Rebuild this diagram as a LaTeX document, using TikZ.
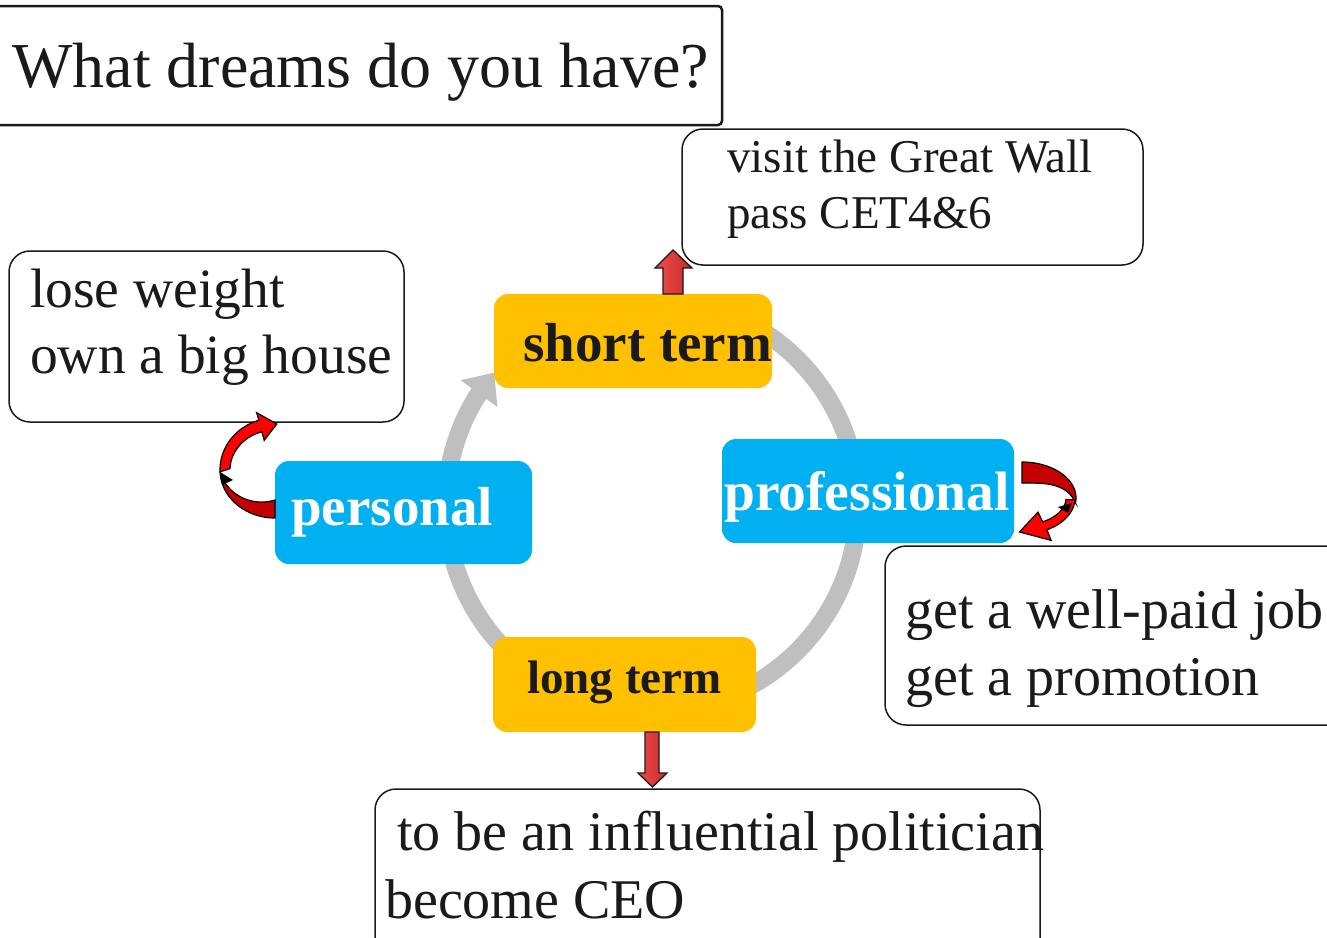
\documentclass[tikz,border=0pt]{standalone}
\usepackage{fontspec}
\setmainfont{Liberation Serif}
\usetikzlibrary{arrows.meta}
\definecolor{ringgray}{HTML}{BFBFBF}
\definecolor{gold}{HTML}{FFC000}
\definecolor{sky}{HTML}{00B0F0}
\definecolor{ink}{HTML}{1A1A1A}
\definecolor{tailred}{HTML}{C40000}
\definecolor{headred}{HTML}{FF0000}
\definecolor{blockL}{HTML}{F24C4C}
\definecolor{blockR}{HTML}{C62A2A}
\newcommand\fsz[1]{\fontsize{#1}{#1}\selectfont}
\begin{document}
\begin{tikzpicture}[x=1pt,y=-1pt,
  box/.style={draw=ink, line width=1.5pt, rounded corners=21pt, fill=white, inner sep=0pt},
  goldbox/.style={fill=gold, rounded corners=14pt, inner sep=0pt},
  bluebox/.style={fill=sky, rounded corners=14pt, inner sep=0pt},
  txt/.style={anchor=base west, inner sep=0pt, text=ink},
  boldtxt/.style={anchor=base west, inner sep=0pt, font=\bfseries},
  blockarrow/.style={draw=ink, line width=1.3pt, left color=blockL, right color=blockR},
  curvetail/.style={fill=tailred, draw=black, line width=1.2pt},
  curvehead/.style={fill=headred, draw=black, line width=1.2pt}]
\path[use as bounding box] (0,0) rectangle (1327,937);
\clip (0,0) rectangle (1327,937);

% white boxes
\node[box, line width=2.5pt, rounded corners=4pt, minimum width=732pt, minimum height=119pt] (titlebox) at (356,65.5) {};
\node[box, minimum width=461pt, minimum height=136pt] (visitbox) at (912.5,197) {};
\node[box, minimum width=395pt, minimum height=171pt] (personalbox) at (206.5,336.5) {};
\node[box, minimum width=465pt, minimum height=179pt] (jobbox) at (1117.5,635.5) {};
\node[box, minimum width=665pt, minimum height=171pt] (longbox) at (707.5,874.5) {};

% grey cycle
\draw[ringgray, line width=18pt, -{Triangle[width=44pt,length=26pt]}]
  plot[domain=-60:212, samples=140] ({652+206*cos(\x)},{505+206*sin(\x)})
  -- ({652+206*cos(220)},{505+206*sin(220)});

% coloured boxes
\node[goldbox, minimum width=278pt, minimum height=94pt] (short) at (633,341) {};
\node[goldbox, minimum width=263pt, minimum height=95pt] (long) at (624.5,684.5) {};
\node[bluebox, minimum width=257pt, minimum height=103pt] (personal) at (403.5,512.5) {};
\node[bluebox, minimum width=292pt, minimum height=104pt] (professional) at (868,491) {};

% straight block arrows
\draw[blockarrow] (663,294) -- (663,268) -- (655,268) -- (673,250) -- (692,268) -- (683,268) -- (683,294) -- cycle;
\draw[blockarrow] (645,732) -- (645,773) -- (638,773) -- (652.5,787) -- (667,773) -- (659,773) -- (659,732) -- cycle;

% curved arrow: personal -> personal goals
\filldraw[curvetail]
  plot[domain=90:178, samples=40] ({275+55*cos(\x)},{470+48*sin(\x)})
  -- plot[domain=178:90, samples=40] ({275+(37+18*(\x-90)/88)*cos(\x)},{470+(30+18*(\x-90)/88)*sin(\x)})
  -- cycle;
\filldraw[curvehead]
  plot[domain=178:253, samples=40] ({275+55*cos(\x)},{470+52*sin(\x)})
  -- ({275+63*cos(253)},{470+60*sin(253)})
  -- ({275+50*cos(272)},{470+46*sin(272)})
  -- ({275+37*cos(253)},{470+31*sin(253)})
  -- plot[domain=253:182, samples=40] ({275+45*cos(\x)},{470+40*sin(\x)})
  -- cycle;
\fill[black] (220,472) -- (233,480) -- (222,485) -- cycle;

% curved arrow: professional -> professional goals
\filldraw[curvetail]
  plot[domain=-90:8, samples=40] ({1022+54*cos(\x)},{498+36*sin(\x)})
  -- plot[domain=8:-90, samples=40] ({1022+(34+20*((\x+90)/98)^2)*cos(\x)},{498+(15+21*((\x+90)/98)^2)*sin(\x)})
  -- cycle;
\filldraw[curvehead]
  plot[domain=3:62, samples=40] ({1022+53*cos(\x)},{498+36*sin(\x)})
  -- ({1022+62*cos(62)},{498+48*sin(62)})
  -- ({1022+48*cos(93)},{498+34*sin(93)})
  -- ({1022+34*cos(62)},{498+16*sin(62)})
  -- plot[domain=62:3, samples=40] ({1022+44*cos(\x)},{498+27*sin(\x)})
  -- cycle;
\fill[black] (1058,507) -- (1072,503) -- (1068,513) -- cycle;

% texts
\node[txt, font=\fsz{64}] (title) at (12,87) {What dreams do you have?};
\node[txt, font=\fsz{47}] (visit1) at (727,172) {visit the Great Wall};
\node[txt, font=\fsz{47}] (visit2) at (727,228) {pass CET4\&6};
\node[txt, font=\fsz{55.5}] (lose) at (30,307) {lose weight};
\node[txt, font=\fsz{55.5}] (house) at (30,373) {own a big house};
\node[txt, font=\fsz{56}] (job) at (905,628) {get a well-paid job};
\node[txt, font=\fsz{56}] (promo) at (905,695) {get a promotion};
\node[txt, font=\fsz{56}] (politician) at (397,850) {to be an influential politician};
\node[txt, font=\fsz{56}] (ceo) at (385,918) {become CEO};
\node[boldtxt, text=ink, font=\fsz{55}\bfseries] (shorttxt) at (523,361) {short term};
\node[boldtxt, text=ink, font=\fsz{47}\bfseries] (longtxt) at (527,693) {long term};
\node[boldtxt, text=white, font=\fsz{55}\bfseries] (personaltxt) at (291,525) {personal};
\node[boldtxt, text=white, font=\fsz{55.5}\bfseries] (professionaltxt) at (724,510) {professional};
\end{tikzpicture}
\end{document}
